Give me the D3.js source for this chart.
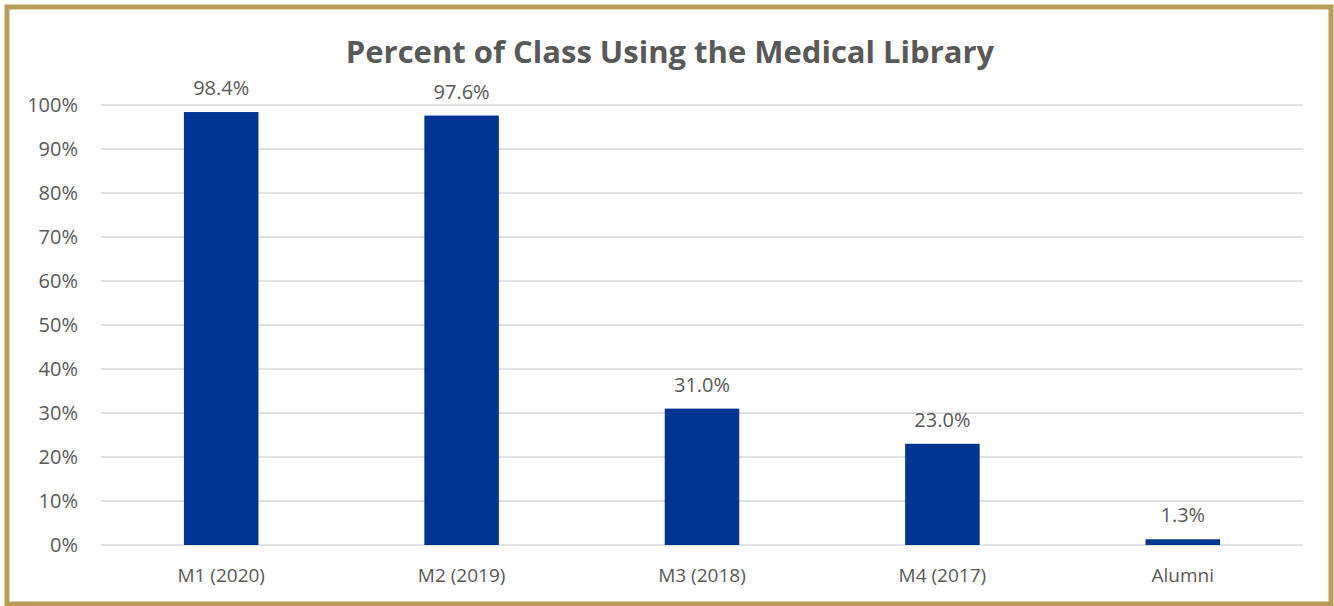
<!DOCTYPE html>
<html>
<head>
<meta charset="utf-8">
<script src="https://cdn.jsdelivr.net/npm/d3@7"></script>
<style>
  body { margin: 0; background: #fff; }
  text { font-family: "Open Sans", "Noto Sans", sans-serif; fill: #595959; }
</style>
</head>
<body>
<svg id="chart" width="1334" height="606"></svg>
<script>
const categories = ["M1 (2020)", "M2 (2019)", "M3 (2018)", "M4 (2017)", "Alumni"];
const percents = [98.4, 97.6, 31.0, 23.0, 1.3];
const yTicks = [0, 10, 20, 30, 40, 50, 60, 70, 80, 90, 100];

const svg = d3.select("#chart");
const W = 1334, H = 606;
const margin = { top: 105, right: 31, bottom: 61, left: 101 };

// gold frame
svg.append("rect")
    .attr("x", 7).attr("y", 7)
    .attr("width", W - 10).attr("height", H - 9)
    .attr("fill", "#fff")
    .attr("stroke", "#b89c5a")
    .attr("stroke-width", 5);

const x = d3.scaleBand()
    .domain(categories)
    .range([margin.left, W - margin.right])
    .paddingInner(0.69)
    .paddingOuter(0.345);

const y = d3.scaleLinear()
    .domain([0, 100])
    .range([H - margin.bottom, margin.top]);

// gridlines
svg.append("g")
    .selectAll("line")
    .data(yTicks)
    .enter().append("line")
    .attr("x1", margin.left)
    .attr("x2", W - margin.right)
    .attr("y1", d => y(d))
    .attr("y2", d => y(d))
    .attr("stroke", "#d9d9d9")
    .attr("stroke-width", 1.5);

// y labels
const yAxis = d3.axisLeft(y).tickValues(yTicks).tickFormat(d => d + "%").tickSize(0).tickPadding(23);
const gy = svg.append("g").attr("transform", `translate(${margin.left},0)`).call(yAxis);
gy.select(".domain").remove();
gy.selectAll("text").style("font-size", "20px").attr("fill", "#595959");

// x labels
const xAxis = d3.axisBottom(x).tickSize(0).tickPadding(24);
const gx = svg.append("g").attr("transform", `translate(0,${y(0)})`).call(xAxis);
gx.select(".domain").remove();
gx.selectAll("text").style("font-size", "19px").attr("fill", "#595959");

// bars
svg.append("g")
    .selectAll("rect")
    .data(percents)
    .enter().append("rect")
    .attr("x", (d, i) => x(categories[i]))
    .attr("width", x.bandwidth())
    .attr("y", d => y(d))
    .attr("height", d => y(0) - y(d))
    .attr("fill", "#003594");

// value labels
svg.append("g")
    .selectAll("text")
    .data(percents)
    .enter().append("text")
    .attr("x", (d, i) => x(categories[i]) + x.bandwidth() / 2)
    .attr("y", d => y(d) - 17)
    .attr("text-anchor", "middle")
    .style("font-size", "20px")
    .text(d => d.toFixed(1) + "%");

// title
svg.append("text")
    .attr("x", 670)
    .attr("y", 63)
    .attr("text-anchor", "middle")
    .style("font-size", "31px")
    .style("font-weight", "bold")
    .text("Percent of Class Using the Medical Library");
</script>
</body>
</html>
